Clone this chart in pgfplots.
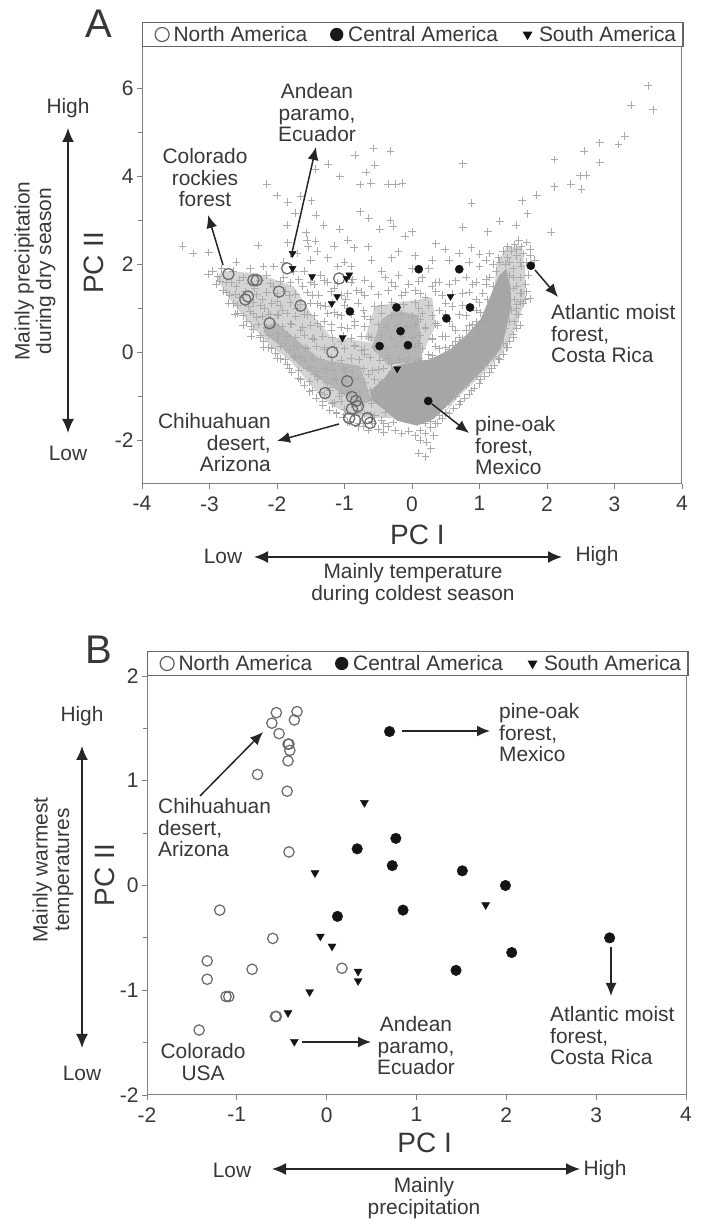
\documentclass[border=0pt]{standalone}
\usepackage{fontspec}
\setmainfont{Liberation Sans}
\usepackage{pgfplots}
\pgfplotsset{compat=1.18}
\usetikzlibrary{arrows.meta}
\definecolor{txt}{gray}{0.22}
\definecolor{axc}{gray}{0.5}
\definecolor{plusc}{gray}{0.67}
\definecolor{corec}{gray}{0.65}
\definecolor{midc}{gray}{0.71}
\definecolor{lightc}{gray}{0.83}
\newcommand{\an}{\fontsize{20.9}{21.5}\selectfont}
\newcommand{\tk}{\fontsize{21}{22}\selectfont}
\newcommand{\ti}{\fontsize{28}{30}\selectfont}
\newcommand{\pn}{\fontsize{40}{42}\selectfont}
\pgfplotsset{
  panel/.style={
    scale only axis, axis line style={axc,line width=1pt}, tick style={axc,line width=0.9pt},
    tick align=outside, xtick pos=bottom, ytick pos=left, major tick length=5pt, minor tick length=4pt,
    ticklabel style={font=\tk,text=txt}, xticklabel style={yshift=-4pt}, xlabel style={font=\ti,text=txt}, ylabel style={font=\ti,text=txt},
    legend columns=-1, legend cell align=left,
    legend image code/.code={\path[draw=none] (0pt,0pt)--(24pt,0pt); \draw[draw=none,##1] plot coordinates {(14.5pt,0pt)};},
    legend style={font=\an,text=txt,draw=axc!80!black,line width=1.3pt,fill=white,at={(0,1)},anchor=south west,inner xsep=5pt,inner ysep=1.5pt,
      /tikz/every even column/.append style={column sep=13pt}},
  },
  oc/.style={only marks,mark=o,mark size=#1,mark options={draw=black!58,line width=1.25pt,fill=none}},
  fc/.style={only marks,mark=*,mark size=#1,mark options={fill=black!92,draw=black!92}},
  tc/.style={only marks,mark=triangle*,mark size=#1,mark options={rotate=180,fill=black!92,draw=black!92}},
}
\begin{document}
\begin{tikzpicture}[x=1pt,y=1pt]
\useasboundingbox (0,0) rectangle (701,1220);
% ---------- Panel A
\begin{axis}[panel, at={(142pt,736pt)}, anchor=south west, width=540pt, height=437pt,
  xmin=-4,xmax=4,ymin=-3,ymax=6.95,
  xtick={-4,-3,-2,-1,0,1,2,3,4}, xticklabels={-4,-3,-2,-1,0,1,2,3,4},
  ytick={-2,0,2,4,6}, yticklabels={-2,0,2,4,6}, minor ytick={-1,1,3,5},
  xlabel={PC I}, ylabel={PC II},
  xlabel style={at={(axis description cs:0.51,-0.117)},anchor=center},
  ylabel style={at={(axis description cs:-0.089,0.506)},anchor=center},
]
\addlegendimage{only marks,mark=o,mark size=7pt,mark options={draw=black!62,line width=1.2pt}}
\addlegendentry{North America}
\addlegendimage{only marks,mark=*,mark size=6pt,mark options={fill=black!90,draw=black!90}}
\addlegendentry{Central America}
\addlegendimage{only marks,mark=triangle*,mark size=4.4pt,mark options={rotate=180,fill=black!92,draw=black!92}}
\addlegendentry{South America}
\addplot[fill=lightc,draw=none,forget plot] coordinates {(-2.9,1.7)(-2.7,1.2)(-2.4,0.65)(-2.1,0.15)(-1.8,-0.2)(-1.5,-0.75)(-1.2,-1.2)(-0.95,-1.4)(-0.6,-1.5)(-0.2,-1.5)(-0.2,-0.5)(-0.5,0.2)(-1.2,0.35)(-1.5,0.9)(-1.75,1.5)(-2.3,1.8)(-2.8,1.85)} -- cycle;
\addplot[fill=lightc,draw=none,forget plot] coordinates {(-0.7,0.3)(-0.55,1.05)(0.3,1.25)(0.35,0.6)(0.1,-0.2)} -- cycle;
\addplot[fill=lightc,draw=none,forget plot] coordinates {(1.25,2.0)(1.4,2.4)(1.62,2.4)(1.68,1.9)(1.68,1.2)(1.55,0.6)(1.35,0.0)(1.05,-0.5)(0.7,-1.0)(0.5,-1.35)(0.9,0)(1.2,1)} -- cycle;
\addplot[fill=midc,draw=none,forget plot] coordinates {(-2.2,0.6)(-2.0,0.67)(-1.66,0.22)(-1.36,-0.16)(-0.77,-0.31)(-0.6,-1.1)(-0.77,-1.22)(-1.06,-0.92)(-1.36,-0.61)(-1.66,-0.31)(-1.95,0.14)(-2.2,0.45)} -- cycle;
\addplot[fill=midc,draw=none,forget plot] coordinates {(-0.45,0.75)(-0.25,0.95)(0.1,0.85)(0.15,-0.2)(-0.35,-0.3)(-0.6,0.1)} -- cycle;
\addplot[fill=corec,draw=none,forget plot] coordinates {(1.386,1.887)(1.46,1.51)(1.47,1.05)(1.386,0.447)(1.31,0.068)(1.064,-0.386)(0.768,-0.84)(0.52,-1.22)(0.32,-1.52)(0.075,-1.67)(-0.22,-1.56)(-0.42,-1.30)(-0.617,-1.07)(-0.6,-0.85)(-0.42,-0.61)(-0.27,-0.31)(-0.024,-0.235)(0.273,-0.16)(0.57,0.068)(0.817,0.41)(1.015,0.75)(1.163,1.28)(1.287,1.735)} -- cycle;
\addplot[only marks,mark=+,mark size=3.9pt,mark options={draw=plusc,line width=0.85pt},forget plot] coordinates {
(3.50,6.07)(3.25,5.62)(3.57,5.52)(3.15,4.92)(2.78,4.77)(3.06,4.73)(2.55,4.58)(2.11,4.39)(2.78,4.32)(2.49,4.02)(2.58,4.03)(2.35,3.83)(2.11,3.77)(2.51,3.71)(1.85,3.58)(1.63,3.45)(1.71,3.15)(1.54,2.89)(1.30,2.98)(0.88,3.39)(0.75,4.29)(0.75,2.85)(1.12,2.74)(2.06,2.73)
(-0.57,4.64)(-0.32,4.58)(-0.84,4.49)(-1.24,4.28)(-0.55,4.26)(-1.43,4.17)(-0.68,4.09)(-1.07,4.0)(-0.77,3.82)(-0.61,3.85)(-0.35,3.83)(-0.24,3.83)(-0.14,3.85)(-2.15,3.83)(-2.0,3.57)(-1.84,3.42)(-1.65,3.55)(-1.49,3.45)(-1.73,3.17)(-1.42,3.12)(-0.77,3.2)(-0.64,3.05)(-0.32,3.0)(-0.28,2.87)(-0.48,2.8)(-1.85,2.89)(-1.31,2.89)(-1.07,2.8)(-1.57,2.72)(0,2.74)(-0.1,2.64)(-1.43,2.53)(-0.95,2.55)(-1.84,2.49)(-2.28,2.43)(-1.54,2.4)(-1.15,2.42)(-0.86,2.38)(-3.4,2.42)(-3.24,2.25)(-3.01,2.27)(0.35,2.47)(0.49,2.34)(-0.2,2.29)(0.88,2.38)(1.0,2.23)
(-3.02,1.78)(-2.95,1.85)(-2.88,1.72)(-2.82,1.9)(-2.9,1.55)(-2.8,1.4)(-2.75,1.6)(-2.7,1.3)(-2.65,1.1)(-2.6,1.5)(-2.58,0.88)(-2.55,1.25)(-2.5,1.7)(-2.45,0.7)(-2.42,1.05)(-2.4,0.92)(-2.35,0.52)(-2.33,1.45)(-2.3,0.8)(-2.25,0.38)(-2.22,1.2)(-2.2,0.25)(-2.18,1.0)(-2.15,1.75)(-2.12,0.1)(-2.1,0.85)(-2.05,1.5)(-2.02,-0.02)(-2.0,1.15)(-1.98,0.42)(-1.95,-0.15)(-1.92,0.95)(-1.9,1.7)(-1.88,0.2)(-1.85,-0.28)(-1.82,1.3)(-1.8,0.65)(-1.78,-0.45)(-1.75,1.85)(-1.72,-0.1)(-1.7,1.0)(-1.68,-0.6)(-1.65,0.5)(-1.62,1.5)(-1.6,-0.75)(-1.58,0.1)(-1.55,0.85)(-1.52,-0.9)(-1.5,-0.35)(-1.48,1.3)(-1.45,0.3)(-1.42,-1.05)(-1.4,0.65)(-1.38,-0.55)(-1.35,1.75)(-1.32,-1.2)(-1.3,0.1)(-1.28,1.05)(-1.25,-0.8)(-1.22,-1.32)(-1.2,0.5)(-1.18,-0.25)(-1.15,1.45)(-1.12,-1.4)(-1.1,0.85)(-1.08,-1.0)(-1.05,0.25)(-1.02,-1.48)(-1,-0.45)(-0.98,1.2)(-0.95,0.55)(-0.92,-1.6)(-0.9,-0.9)(-0.88,1.65)(-0.85,0.15)(-0.8,-1.7)
(-0.72,-1.68)(-0.65,-1.78)(-0.58,-1.62)(-0.5,-1.75)(-0.42,-1.82)(-0.35,-1.7)(-0.25,-1.78)(-0.15,-1.85)(-0.05,-1.8)(0.05,-1.9)(0.12,-1.78)(0.2,-1.85)(0.28,-1.72)(0.32,-1.9)(0.22,-2.05)(0.12,-2.0)(0.28,-2.2)(0.1,-2.3)(0.2,-2.38)(0.38,-1.62)(0.45,-1.5)(0.55,-1.4)(0.62,-1.28)(0.7,-1.18)(0.78,-1.05)(0.85,-0.95)(0.92,-0.82)(1.0,-0.72)(1.08,-0.55)(1.15,-0.45)(1.22,-0.3)(1.28,-0.15)(1.35,-0.05)(1.4,0.1)(1.45,0.25)(1.5,0.4)(1.55,0.55)(1.52,0.7)(1.58,0.85)(1.55,1.0)(1.6,1.15)(1.68,1.2)(1.75,1.22)(1.62,1.35)(1.55,1.5)(1.68,1.55)(1.6,1.7)(1.72,1.75)
(1.38,2.0)(1.42,2.15)(1.48,2.3)(1.52,2.45)(1.58,2.55)(1.62,2.4)(1.65,2.25)(1.7,2.5)(1.55,2.2)(1.45,2.05)(1.3,2.05)(1.25,1.85)(1.5,1.9)(1.6,2.05)(1.7,2.05)(1.35,2.3)(1.55,2.35)(1.75,2.35)(1.28,2.15)(1.4,1.8)(1.5,1.7)(1.42,2.4)(1.62,1.95)(1.75,2.2)(1.82,2.1)(1.2,2.0)(1.15,1.7)(1.1,1.55)(1.05,1.35)(0.95,1.2)
(0.0,1.9)(-0.2,1.75)(-0.45,1.85)(-0.6,1.5)(-0.7,1.3)(-0.55,1.05)(-0.4,1.7)(-0.35,1.4)(-0.25,1.5)(-0.15,1.3)(-0.05,1.55)(0.05,1.4)(0.15,1.7)(0.2,1.25)(0.3,1.5)(0.25,1.9)(0.4,1.6)(0.45,1.3)(0.55,1.55)(0.6,1.05)(0.75,1.35)(0.8,1.7)(0.9,1.55)(0.95,0.95)(0.7,0.85)(0.55,0.7)(0.4,0.95)(0.35,0.65)(0.65,0.5)(0.5,0.35)(0.75,0.3)(0.3,0.3)(0.2,0.55)(0.1,0.2)(0.25,-0.05)(0.4,0.08)(0.6,0.15)(0.85,0.6)(0.1,1.0)(0.12,0.75)(-0.62,0.75)(-0.72,0.95)(-0.85,0.7)(-0.82,1.4)(-0.65,0.35)(-0.75,0.05)(-0.55,0.1)(-0.95,1.0)(-1.05,1.3)(-1.25,1.6)(-1.15,0.9)(-1.3,0.7)(-1.4,1.1)(-1.45,1.55)(-1.6,1.85)(-1.1,1.95)(-0.9,1.95)(-0.6,2.1)(-0.3,2.15)(0.05,2.2)(0.3,2.1)(0.55,2.1)(0.7,2.25)(0.85,2.05)(1.0,1.95)(1.15,2.25)(1.1,2.1)(-1.9,2.05)(-1.5,2.1)(-1.25,2.15)(-1.0,2.05)(-2.05,1.95)(-2.2,1.95)(-2.4,1.9)(-2.65,1.85)(-2.6,2.05)(-1.7,2.25)(-1.4,2.3)(-1.55,2.55)(-0.65,2.4)
(-0.85,-1.4)(-0.7,-1.4)(-0.55,-1.45)(-0.75,-1.2)(-0.6,-1.1)(-0.65,-0.5)(-0.5,-0.4)(-0.8,-0.6)(-0.9,-0.15)(-0.7,-0.05)(-0.95,-0.35)(-1.15,-0.6)(-1.25,-0.4)(-1.45,-0.5)(-1.3,-0.95)(-1.15,-1.15)(-1.0,-1.3)(-0.45,-1.55)(-1.65,-0.1)(-1.75,0.15)(-1.85,0.4)(-2.0,0.85)(-2.15,0.55)
(-2.85,1.62)(-2.68,1.58)(-2.55,1.64)(-2.4,1.57)(-2.25,1.63)(-2.1,1.56)(-1.95,1.62)(-1.8,1.58)(-1.68,1.65)(-1.5,1.59)(-1.3,1.63)(-1.1,1.57)(-0.9,1.6)(-0.7,1.64)(-0.3,1.58)(0.1,1.62)(0.35,1.58)(0.65,1.63)(0.95,1.6)(1.1,1.66)
(-2.75,1.36)(-2.62,1.32)(-2.47,1.38)(-2.3,1.31)(-2.15,1.37)(-2.0,1.33)(-1.88,1.39)(-1.72,1.32)(-1.55,1.36)(-1.38,1.3)(-1.2,1.38)(-0.95,1.33)(-0.75,1.37)(-0.5,1.31)(-0.1,1.37)(0.12,1.33)(0.35,1.38)(0.6,1.32)(0.85,1.36)(1.6,1.34)(1.7,1.38)
(-2.72,1.12)(-2.58,1.07)(-2.35,1.13)(-2.25,1.06)(-2.08,1.12)(-1.95,1.07)(-1.8,1.13)(-1.65,1.08)(-1.5,1.12)(-1.35,1.06)(-1.18,1.13)(-1.0,1.07)(-0.8,1.12)(-0.45,1.07)(-0.3,1.14)(-0.12,1.08)(0.05,1.13)(0.25,1.07)(0.5,1.12)(0.75,1.07)(1.0,1.13)(1.55,1.08)(1.65,1.12)
(-2.62,0.87)(-2.5,0.83)(-2.35,0.88)(-2.22,0.82)(-2.12,0.87)(-1.98,0.84)(-1.85,0.88)(-1.72,0.82)(-1.6,0.87)(-1.45,0.83)(-1.25,0.88)(-1.05,0.83)(-0.9,0.87)(-0.7,0.82)(-0.45,0.88)(-0.3,0.83)(-0.15,0.87)(0.0,0.82)(0.15,0.88)(0.3,0.83)(0.5,0.87)(0.8,0.83)(1.55,0.87)
(-2.5,0.62)(-2.38,0.58)(-2.28,0.63)(-2.15,0.57)(-2.05,0.62)(-1.92,0.58)(-1.78,0.63)(-1.62,0.57)(-1.5,0.62)(-1.35,0.58)(-1.2,0.63)(-1.05,0.57)(-0.85,0.62)(-0.7,0.58)(-0.5,0.63)(-0.38,0.57)(-0.22,0.62)(-0.08,0.58)(0.05,0.63)(0.2,0.57)(0.38,0.62)(0.6,0.58)(0.9,0.63)(1.05,0.57)(1.6,0.62)
(-2.38,0.37)(-2.25,0.33)(-2.12,0.38)(-2.0,0.32)(-1.85,0.37)(-1.72,0.33)(-1.6,0.38)(-1.48,0.32)(-1.32,0.37)(-1.18,0.33)(-1.02,0.38)(-0.9,0.32)(-0.75,0.37)(-0.6,0.33)(-0.45,0.38)(-0.3,0.32)(-0.15,0.37)(0.0,0.33)(0.12,0.38)(0.3,0.32)(0.45,0.37)(0.7,0.33)(0.9,0.38)(1.5,0.33)
(-2.2,0.12)(-2.08,0.08)(-1.95,0.13)(-1.82,0.07)(-1.7,0.12)(-1.55,0.08)(-1.42,0.13)(-1.3,0.07)(-1.15,0.12)(-1.0,0.08)(-0.85,0.13)(-0.7,0.07)(-0.55,0.12)(-0.4,0.08)(-0.25,0.13)(-0.1,0.07)(0.05,0.12)(0.15,0.08)(0.35,0.13)(0.55,0.07)(1.42,0.12)
(-2.0,-0.13)(-1.88,-0.17)(-1.75,-0.12)(-1.6,-0.18)(-1.48,-0.13)(-1.35,-0.17)(-1.2,-0.12)(-1.05,-0.18)(-0.9,-0.13)(-0.78,-0.17)(-0.62,-0.12)(-0.48,-0.18)(-0.35,-0.13)(-0.18,-0.17)(-0.05,-0.12)(0.1,-0.18)(0.3,-0.13)(1.3,-0.17)
(-1.82,-0.38)(-1.68,-0.42)(-1.55,-0.37)(-1.42,-0.43)(-1.3,-0.38)(-1.15,-0.42)(-1.02,-0.37)(-0.88,-0.43)(-0.72,-0.38)(-0.58,-0.42)(-0.42,-0.37)(-0.3,-0.43)(1.18,-0.38)
(-1.65,-0.63)(-1.52,-0.67)(-1.4,-0.62)(-1.28,-0.68)(-1.12,-0.63)(-0.98,-0.67)(-0.85,-0.62)(-0.7,-0.68)(-0.55,-0.63)(-0.45,-0.67)(1.02,-0.63)
(-1.48,-0.88)(-1.35,-0.92)(-1.22,-0.87)(-1.05,-0.93)(-0.92,-0.88)(-0.78,-0.92)(-0.62,-0.87)(-0.5,-0.93)(0.88,-0.88)
(-1.32,-1.13)(-1.18,-1.17)(-1.05,-1.12)(-0.9,-1.18)(-0.75,-1.13)(-0.6,-1.17)(-0.45,-1.12)(0.72,-1.13)
(-1.12,-1.38)(-0.98,-1.42)(-0.8,-1.37)(-0.62,-1.42)(-0.4,-1.38)(-0.2,-1.42)(0.5,-1.38)
(-0.95,-1.58)(-0.78,-1.62)(-0.6,-1.57)(-0.42,-1.63)(-0.28,-1.6)(0.35,-1.63)(0.28,-1.58)
(1.45,1.75)(1.5,1.45)(1.52,1.2)(1.48,0.95)(1.45,0.7)(1.38,0.55)(1.36,0.2)(1.2,-0.1)(1.08,-0.3)(0.95,-0.55)(0.8,-0.75)(0.65,-1.0)(0.5,-1.18)(0.4,-1.45)(0.2,-1.62)
(1.2,1.5)(1.12,1.2)(1.02,0.9)(0.95,0.7)(0.8,0.5)(0.65,0.25)(0.5,0.1)(0.3,-0.08)(0.1,-0.15)(-0.1,-0.22)(-0.3,-0.25)
};
\addplot[oc=5.6pt,forget plot] coordinates {(-2.72,1.78)(-2.35,1.64)(-2.30,1.64)(-1.97,1.38)(-2.43,1.27)(-2.47,1.20)(-1.85,1.91)(-1.65,1.06)(-2.11,0.66)(-1.08,1.68)(-1.18,0)(-0.96,-0.66)(-1.29,-0.93)(-0.89,-1.02)(-0.83,-1.11)(-0.80,-1.23)(-0.89,-1.29)(-0.93,-1.50)(-0.84,-1.55)(-0.66,-1.50)(-0.62,-1.61)};
\addplot[fc=4.1pt,forget plot] coordinates {(0.10,1.89)(0.70,1.89)(1.76,1.97)(-0.23,1.02)(-0.92,0.93)(0.86,1.02)(0.51,0.77)(-0.17,0.48)(-0.48,0.14)(-0.06,0.16)(0.24,-1.11)};
\addplot[tc=4pt,forget plot] coordinates {(-1.77,2.25)(-1.77,1.91)(-1.48,1.72)(-0.97,1.68)(-0.93,1.76)(-1.11,1.27)(-1.19,1.11)(0.57,1.27)(-1.03,0.33)(-0.22,-0.38)};
\end{axis}
% ---------- Panel B
\begin{axis}[panel, at={(147pt,125pt)}, anchor=south west, width=539pt, height=419pt,
  xmin=-2,xmax=4,ymin=-2,ymax=2,
  xtick={-2,-1,0,1,2,3,4}, xticklabels={-2,-1,0,1,2,3,4},
  ytick={-2,-1,0,1,2}, yticklabels={-2,-1,0,1,2}, minor ytick={-1.5,-0.5,0.5,1.5},
  xlabel={PC I}, ylabel={PC II},
  xlabel style={at={(axis description cs:0.515,-0.115)},anchor=center},
  ylabel style={at={(axis description cs:-0.078,0.525)},anchor=center},
]
\addlegendimage{only marks,mark=o,mark size=7pt,mark options={draw=black!62,line width=1.2pt}}
\addlegendentry{North America}
\addlegendimage{only marks,mark=*,mark size=6pt,mark options={fill=black!90,draw=black!90}}
\addlegendentry{Central America}
\addlegendimage{only marks,mark=triangle*,mark size=4.4pt,mark options={rotate=180,fill=black!92,draw=black!92}}
\addlegendentry{South America}
\addplot[oc=5.2pt,forget plot] coordinates {(-0.56,1.65)(-0.33,1.66)(-0.36,1.58)(-0.61,1.55)(-0.53,1.45)(-0.43,1.35)(-0.42,1.35)(-0.41,1.29)(-0.43,1.19)(-0.77,1.06)(-0.44,0.90)(-0.42,0.32)(-1.19,-0.235)(-0.60,-0.505)(-1.33,-0.72)(-1.33,-0.895)(-0.83,-0.80)(0.17,-0.79)(-1.12,-1.06)(-1.09,-1.06)(-0.57,-1.25)(-0.56,-1.25)(-1.42,-1.38)};
\addplot[fc=5.3pt,forget plot] coordinates {(0.70,1.47)(0.77,0.45)(0.34,0.35)(0.73,0.19)(1.51,0.14)(1.99,0)(0.12,-0.295)(0.85,-0.235)(3.15,-0.50)(2.06,-0.64)(1.44,-0.81)};
\addplot[tc=4.6pt,forget plot] coordinates {(0.42,0.79)(-0.13,0.12)(1.77,-0.185)(-0.07,-0.485)(0.06,-0.58)(0.35,-0.82)(0.35,-0.91)(-0.19,-1.015)(-0.43,-1.215)(-0.36,-1.49)};
\end{axis}
% ---------- Annotations, in image pixel coordinates
\begin{scope}[yshift=1220pt,y=-1pt,every node/.style={font=\an,text=txt,inner sep=0pt},
  ar/.style={-{Latex[length=13pt,width=11pt]},line width=1.5pt,black!85},
  dar/.style={{Latex[length=14pt,width=12pt]}-{Latex[length=14pt,width=12pt]},line width=1.6pt,black!85}]
\node at (99,24) {\pn A};
\node at (99,650) {\pn B};
\node[align=center] at (317,113) {Andean\\paramo,\\Ecuador};
\node[align=center] at (205,178) {Colorado\\rockies\\forest};
\node[align=left,anchor=west] at (551,334) {Atlantic moist\\forest,\\Costa Rica};
\node[align=left,anchor=west] at (475,446) {pine-oak\\forest,\\Mexico};
\node[align=right,anchor=east] at (271,443) {Chihuahuan\\desert,\\Arizona};
\draw[ar] (223,265)--(208,215);
\draw[ar] (291,257)--(316,147);
\draw[ar] (535,270)--(558,297);
\draw[ar] (432,404)--(469,433);
\draw[ar] (339,424)--(277,441);
\node at (223,556) {Low};
\node at (597,556) {High};
\draw[dar] (254,557)--(562,557);
\node[align=center] at (413,584) {Mainly temperature\\during coldest season};
\node at (68,108) {High};
\node at (68,453) {Low};
\draw[dar] (68,128)--(68,433);
\node[rotate=90,align=center] at (35,271) {Mainly precipitation\\during dry season};
% B
\node[align=left,anchor=west] at (499,733) {pine-oak\\forest,\\Mexico};
\node[align=left,anchor=west] at (158,828) {Chihuahuan\\desert,\\Arizona};
\node[align=center] at (203,1062) {Colorado\\USA};
\node[align=center] at (416,1046) {Andean\\paramo,\\Ecuador};
\node[align=left,anchor=west] at (550,1036) {Atlantic moist\\forest,\\Costa Rica};
\draw[ar] (402,731)--(490,731);
\draw[ar] (200,796)--(263,732);
\draw[ar] (302,1042)--(371,1042);
\draw[ar] (611,947)--(611,996);
\node at (232,1170) {Low};
\node at (605,1170) {High};
\draw[dar] (272,1169)--(580,1169);
\node[align=center] at (424,1198) {Mainly\\precipitation};
\node at (82,716) {High};
\node at (82,1073) {Low};
\draw[dar] (82,746)--(82,1048);
\node[rotate=90,align=center] at (53,870) {Mainly warmest\\temperatures};
\end{scope}
\end{tikzpicture}
\end{document}
